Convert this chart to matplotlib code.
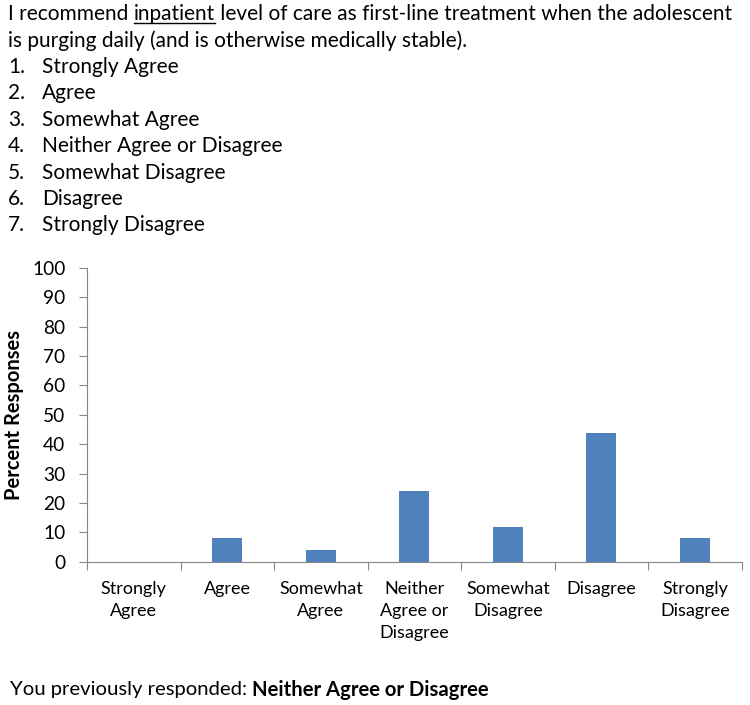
import matplotlib
matplotlib.use('Agg')
import matplotlib.pyplot as plt
from matplotlib.lines import Line2D

# data
categories = ['Strongly\nAgree', 'Agree', 'Somewhat\nAgree', 'Neither\nAgree or\nDisagree',
              'Somewhat\nDisagree', 'Disagree', 'Strongly\nDisagree']
percent = [0, 8, 4, 24, 12, 44, 8]
options = ['Strongly Agree', 'Agree', 'Somewhat Agree', 'Neither Agree or Disagree',
           'Somewhat Disagree', 'Disagree', 'Strongly Disagree']
previous = 'Neither Agree or Disagree'

plt.rcParams['font.family'] = ['Lato', 'DejaVu Sans']
axis_col = '#868686'

fig = plt.figure(figsize=(7.5, 7.05), dpi=100)
ax = fig.add_axes([0.116, 0.203, 0.873, 0.417])

x = range(len(categories))
ax.bar(x, percent, width=0.32, color='#4F81BD')
ax.set_xlim(-0.5, len(categories) - 0.5)
ax.set_ylim(0, 100)
ax.set_yticks(range(0, 101, 10))
ax.tick_params(axis='y', labelsize=13.8, length=5.5, color=axis_col, pad=10)

# category labels between boundary ticks
ax.set_xticks([i + 0.5 for i in range(-1, len(categories))])
ax.set_xticklabels([])
ax.tick_params(axis='x', length=6, color=axis_col)
for i, lab in enumerate(categories):
    ax.text(i, -6.5, lab, ha='center', va='top', fontsize=13,
            transform=ax.transData, linespacing=1.45)

for s in ['top', 'right']:
    ax.spines[s].set_visible(False)
for s in ['left', 'bottom']:
    ax.spines[s].set_color(axis_col)
ax.set_ylabel('Percent Responses', fontsize=14.5, fontweight='bold')
ax.yaxis.set_label_coords(-0.096, 0.5)

# question text
r = fig.canvas.get_renderer()
fs = 15
x0, y0 = 8 / 750, 1 - 14 / 705
t1 = fig.text(x0, y0, 'I recommend ', fontsize=fs, va='center')
w1 = t1.get_window_extent(r)
t2 = fig.text(w1.x1 / 750, y0, 'inpatient', fontsize=fs, va='center')
w2 = t2.get_window_extent(r)
fig.text(w2.x1 / 750, y0, ' level of care as first-line treatment when the adolescent',
         fontsize=fs, va='center')
uy = y0 - 9 / 705
fig.add_artist(Line2D([w2.x0 / 750, w2.x1 / 750], [uy, uy], color='black', lw=1))
fig.text(x0, 1 - 41 / 705, 'is purging daily (and is otherwise medically stable).',
         fontsize=fs, va='center')
for i, opt in enumerate(options):
    yy = 1 - (67 + i * 26.4) / 705
    fig.text(x0, yy, f'{i + 1}.', fontsize=fs, va='center')
    fig.text(42 / 750, yy, opt, fontsize=fs, va='center')

# previous response
yb = 1 - 690 / 705
b1 = fig.text(10 / 750, yb, 'You previously responded: ', fontsize=14.6, va='center')
wb = b1.get_window_extent(r)
fig.text(wb.x1 / 750, yb, previous, fontsize=14.6, fontweight='bold', va='center')

fig.savefig('out.png', dpi=100)
